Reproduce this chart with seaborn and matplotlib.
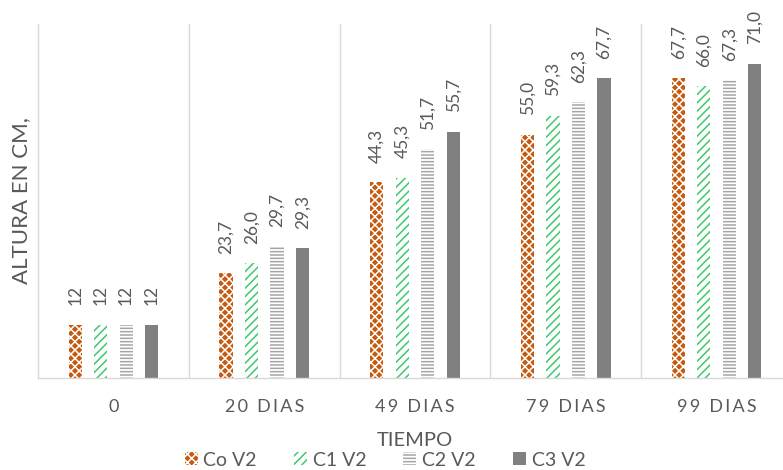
import matplotlib
matplotlib.use("Agg")
import matplotlib.pyplot as plt
from matplotlib.patches import Patch
import seaborn as sns
import pandas as pd

# Plant height by treatment over time
tiempos = ["0", "20 DIAS", "49 DIAS", "79 DIAS", "99 DIAS"]
series = ["Co V2", "C1 V2", "C2 V2", "C3 V2"]
co_v2 = [12, 23.7, 44.3, 55.0, 67.7]
c1_v2 = [12, 26.0, 45.3, 59.3, 66.0]
c2_v2 = [12, 29.7, 51.7, 62.3, 67.3]
c3_v2 = [12, 29.3, 55.7, 67.7, 71.0]

values = [co_v2, c1_v2, c2_v2, c3_v2]
rows = []
for name, vals in zip(series, values):
    for t, v in zip(tiempos, vals):
        rows.append({"Tiempo": t, "Serie": name, "Altura": v})
df = pd.DataFrame(rows)

sns.set_theme(style="white")
plt.rcParams["font.family"] = ["Lato", "DejaVu Sans"]
plt.rcParams["hatch.linewidth"] = 1.1

text_gray = "#595959"
grid_gray = "#d9d9d9"

# face colour, hatch colour, hatch pattern per series
styles = [
    ("#c55a11", "white", "xxxx"),
    ("white", "#3cc96f", "////"),
    ("white", "#a6a6a6", "-----"),
    ("#808080", "#808080", ""),
]

fig = plt.figure(figsize=(7.83, 4.70), dpi=100)
ax = fig.add_axes([38 / 783, 92 / 470, 754 / 783, 354 / 470])

sns.barplot(data=df, x="Tiempo", y="Altura", hue="Serie", order=tiempos,
            hue_order=series, width=0.675, gap=0.48, legend=False, ax=ax,
            errorbar=None)


def fmt(v):
    if isinstance(v, int):
        return str(v)
    return f"{v:.1f}".replace(".", ",")


for cont, (face, hcol, hatch), vals in zip(ax.containers, styles, values):
    for bar in cont:
        bar.set_facecolor(face)
        bar.set_edgecolor(hcol)
        bar.set_hatch(hatch)
        bar.set_linewidth(0)
    ax.bar_label(cont, labels=[fmt(v) for v in vals], rotation=90,
                 padding=14, color=text_gray, fontsize=12.5)

ax.set_ylim(0, 80)
ax.set_xlim(-0.5, 4.5)
ax.set_yticks([])
ax.set_xticks(range(len(tiempos)))
# spaced-out category captions
ax.set_xticklabels(["\u2009".join(t) for t in tiempos],
                   color=text_gray, fontsize=13)
ax.tick_params(axis="x", length=0, pad=15)

# category separators
for x in [0.5, 1.5, 2.5, 3.5]:
    ax.axvline(x, color=grid_gray, lw=1, zorder=0)

for side in ["top", "right"]:
    ax.spines[side].set_visible(False)
for side in ["left", "bottom"]:
    ax.spines[side].set_color(grid_gray)
    ax.spines[side].set_linewidth(1)

ax.set_xlabel("TIEMPO", color=text_gray, fontsize=14.5, labelpad=12)
ax.set_ylabel("ALTURA EN CM,", color=text_gray, fontsize=16, labelpad=5)

handles = []
for name, (face, hcol, hatch) in zip(series, styles):
    handles.append(Patch(facecolor=face, edgecolor=hcol, hatch=hatch,
                         linewidth=0, label=name))
fig.legend(handles=handles, loc="center", bbox_to_anchor=(385 / 783, 0.021),
           ncol=4, frameon=False, fontsize=14, labelcolor=text_gray,
           handlelength=0.67, handleheight=0.67, handletextpad=0.3,
           columnspacing=1.9, borderpad=0)

fig.savefig("out.png", dpi=100)
